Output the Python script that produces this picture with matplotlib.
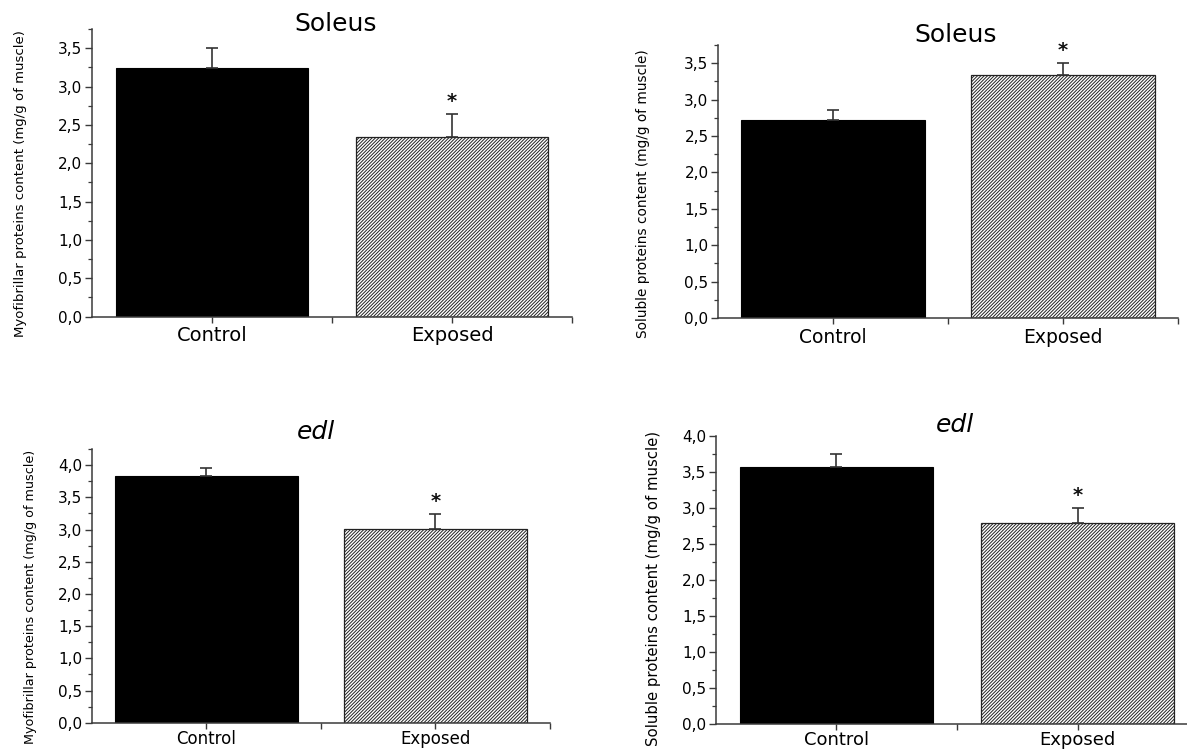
import matplotlib
matplotlib.use("Agg")
import matplotlib.pyplot as plt
from matplotlib.ticker import FuncFormatter, MultipleLocator, FixedLocator

plt.rcParams['font.family'] = ['DejaVu Sans']
plt.rcParams['hatch.linewidth'] = 0.7

# ---------------- data ----------------
categories = ["Control", "Exposed"]
titles = ["Soleus", "Soleus", "edl", "edl"]
title_italic = [False, False, True, True]
ylabels = ["Myofibrillar proteins content (mg/g of muscle)",
           "Soluble proteins content (mg/g of muscle)",
           "Myofibrillar proteins content (mg/g of muscle)",
           "Soluble proteins content (mg/g of muscle)"]
means_soleus_myo = [3.24, 2.34]
err_soleus_myo = [0.26, 0.30]
means_soleus_sol = [2.72, 3.335]
err_soleus_sol = [0.14, 0.165]
means_edl_myo = [3.83, 3.01]
err_edl_myo = [0.12, 0.225]
means_edl_sol = [3.56, 2.785]
err_edl_sol = [0.185, 0.21]
significant = [False, True]
y_max = [3.75, 3.75, 4.25, 4.0]

means_all = [means_soleus_myo, means_soleus_sol, means_edl_myo, means_edl_sol]
errs_all = [err_soleus_myo, err_soleus_sol, err_edl_myo, err_edl_sol]

# ---------------- layout ----------------
positions = [
    [0.0775, 0.5772, 0.4044, 0.3841],
    [0.6051, 0.5754, 0.3870, 0.3645],
    [0.0773, 0.0351, 0.3861, 0.3654],
    [0.6030, 0.0336, 0.4065, 0.3847],
]
ylabel_coords = [(-0.148, 0.461), (-0.163, 0.454), (-0.133, 0.461), (-0.130, 0.468)]
ylabel_sizes = [9.5, 9.8, 9.2, 10.7]
xlabel_sizes = [14, 13.5, 12, 13]
xlabel_pads = [3, 3, 1.5, 1.0]
title_coords = [(0.508, 1.017), (0.517, 1.037), (0.489, 1.062), (0.495, 1.037)]

spine_col = "#3a3a3a"
fig = plt.figure(figsize=(11.87, 7.49), dpi=100)

comma = FuncFormatter(lambda v, p: f"{v:.1f}".replace(".", ","))

for i in range(4):
    ax = fig.add_axes(positions[i])
    x = [1, 2]
    means = means_all[i]
    errs = errs_all[i]
    ax.bar(x[0], means[0], width=0.8, color="black", edgecolor="black", linewidth=0.8, zorder=2)
    ax.bar(x[1], means[1], width=0.8, color="white", edgecolor="#222222", hatch="//////////",
           linewidth=0.9, zorder=2)
    ax.errorbar(x, means, yerr=[[0, 0], errs], fmt="none", ecolor="#333333",
                elinewidth=1.2, capsize=4, capthick=1.2, zorder=3)
    for j in range(2):
        if significant[j]:
            ax.annotate("*", xy=(x[j], means[j] + errs[j]), xytext=(0, 9),
                        textcoords="offset points", ha="center", va="center",
                        fontsize=14, fontweight="bold", color="#111111")

    ax.set_xlim(0.5, 2.5)
    ax.set_ylim(0, y_max[i])
    for s in ["top", "right"]:
        ax.spines[s].set_visible(False)
    for s in ["left", "bottom"]:
        ax.spines[s].set_color(spine_col)
        ax.spines[s].set_linewidth(1.1)

    ax.yaxis.set_major_locator(MultipleLocator(0.5))
    ax.yaxis.set_minor_locator(MultipleLocator(0.25))
    ax.yaxis.set_major_formatter(comma)
    ax.set_xticks(x)
    ax.set_xticklabels(categories)
    ax.xaxis.set_minor_locator(FixedLocator([1.5, 2.5]))
    ax.tick_params(axis="y", which="major", direction="out", length=5, width=1.0,
                   color=spine_col, labelsize=11, pad=2)
    ax.tick_params(axis="y", which="minor", direction="out", length=3, width=0.9,
                   color=spine_col)
    ax.tick_params(axis="x", which="both", direction="out", length=4, width=1.0,
                   color=spine_col, labelsize=xlabel_sizes[i], pad=xlabel_pads[i])

    ax.set_ylabel(ylabels[i], fontsize=ylabel_sizes[i])
    ax.yaxis.label.set_va("center")
    ax.yaxis.set_label_coords(*ylabel_coords[i])

    ax.text(title_coords[i][0], title_coords[i][1], titles[i], transform=ax.transAxes,
            ha="center", va="center", fontsize=18,
            style="italic" if title_italic[i] else "normal")

fig.savefig("out.png", dpi=100)
